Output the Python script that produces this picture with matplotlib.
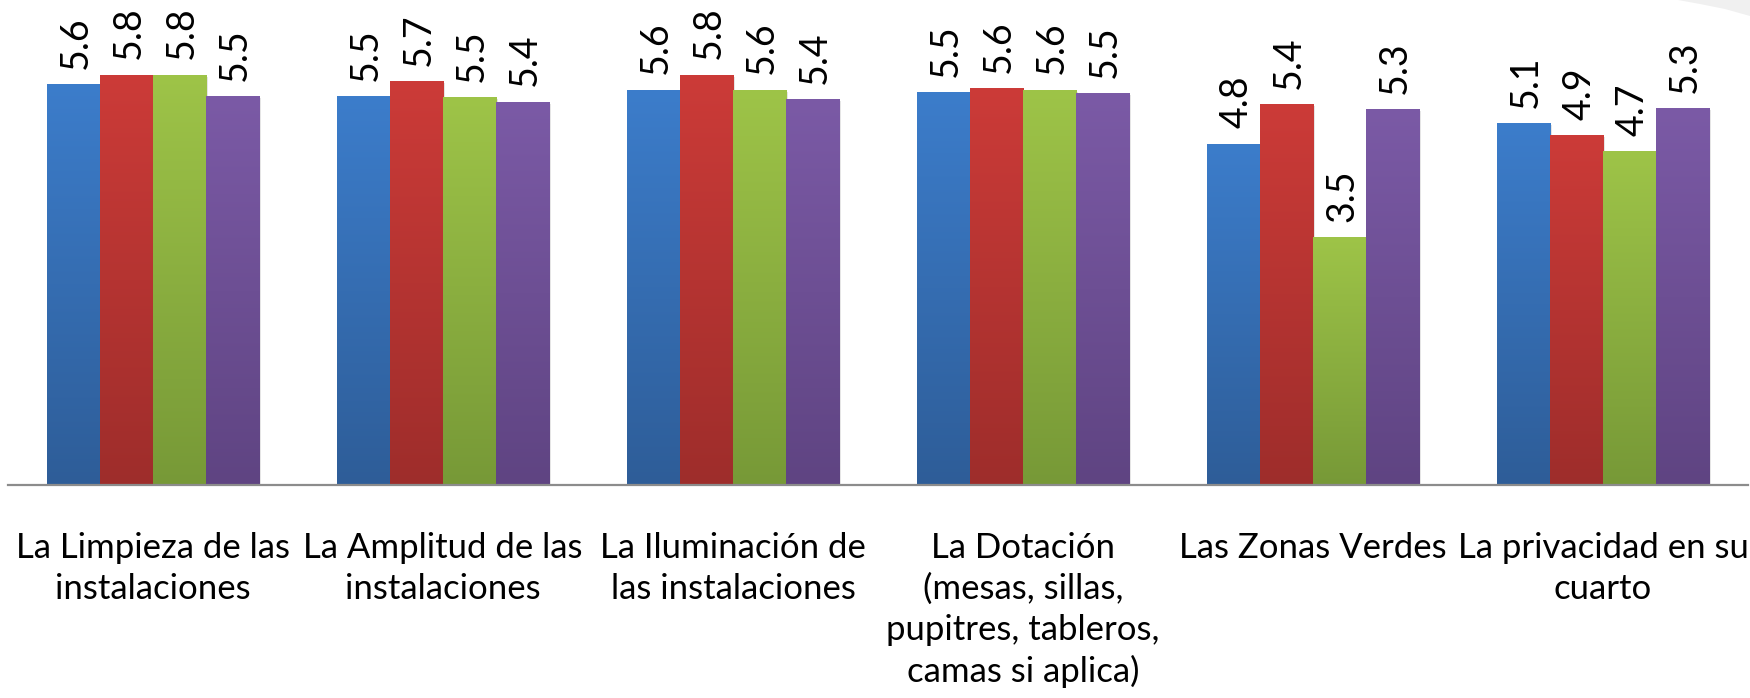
import numpy as np
import matplotlib
matplotlib.use("Agg")
import matplotlib.pyplot as plt
from matplotlib.colors import LinearSegmentedColormap
from matplotlib.patches import Polygon

plt.rcParams['font.family'] = ['Lato', 'DejaVu Sans']

# Datos
categorias = [
    "La Limpieza de las\ninstalaciones",
    "La Amplitud de las\ninstalaciones",
    "La Iluminación de\nlas instalaciones",
    "La Dotación\n(mesas, sillas,\npupitres, tableros,\ncamas si aplica)",
    "Las Zonas Verdes",
    "La privacidad en su\ncuarto",
]
serie_azul = [5.64, 5.47, 5.56, 5.53, 4.80, 5.09]
serie_roja = [5.77, 5.68, 5.77, 5.58, 5.36, 4.92]
serie_verde = [5.77, 5.46, 5.56, 5.56, 3.49, 4.70]
serie_morada = [5.47, 5.39, 5.43, 5.51, 5.29, 5.30]

series = [serie_azul, serie_roja, serie_verde, serie_morada]
# (color arriba, color abajo)
colores = [
    ("#3c7dcb", "#2e5d98"),
    ("#cc3b38", "#9e2d2b"),
    ("#9ec448", "#779937"),
    ("#7b5aa6", "#5f4482"),
]

W, H = 1750, 698
fig = plt.figure(figsize=(W / 100, H / 100), dpi=100)
ax = fig.add_axes([8 / W, 213 / H, 1740 / W, 485 / H])

x = np.arange(len(categorias))
ancho = 0.183
grad = np.linspace(0, 1, 256).reshape(-1, 1)

for i, (vals, (c_top, c_bot)) in enumerate(zip(series, colores)):
    pos = x + (i - 1.5) * ancho
    cmap = LinearSegmentedColormap.from_list(f"g{i}", [c_bot, c_top])
    # sombra suave
    ax.bar(pos + 0.008, vals, ancho, bottom=-0.03, color="k", alpha=0.10,
           zorder=1, linewidth=0)
    barras = ax.bar(pos, vals, ancho, color=c_top, linewidth=0, zorder=2)
    for rect, v in zip(barras, vals):
        x0 = rect.get_x()
        im = ax.imshow(grad, extent=[x0, x0 + ancho, 0, v], origin="lower",
                       aspect="auto", cmap=cmap, zorder=3)
        im.set_clip_path(rect)
        ax.annotate(f"{v:.1f}", (x0 + ancho / 2, v), xytext=(2, 11),
                    textcoords="offset points", rotation=90,
                    ha="center", va="bottom", fontsize=27, color="black")

ax.set_xlim(-0.5, 5.5)
ax.set_ylim(0, 485 / 71.1)
ax.set_xticks(x)
ax.set_xticklabels(categorias, fontsize=25, linespacing=1.33)
ax.tick_params(axis="x", length=0, pad=34)
ax.set_yticks([])
for s in ["top", "left", "right"]:
    ax.spines[s].set_visible(False)
ax.spines["bottom"].set_color("#8c8c8c")
ax.spines["bottom"].set_linewidth(1.6)
ax.spines["bottom"].set_zorder(4)

# franja clara de la esquina superior derecha
pts = np.array([[1678, 0], [1700, 4], [1725, 9], [1750, 16], [1750, 0]])
fig.patches.append(Polygon(np.column_stack([pts[:, 0] / W, 1 - pts[:, 1] / H]),
                           closed=True, transform=fig.transFigure,
                           facecolor="#f0f0f0", edgecolor="none"))

fig.savefig("out.png", dpi=100)
